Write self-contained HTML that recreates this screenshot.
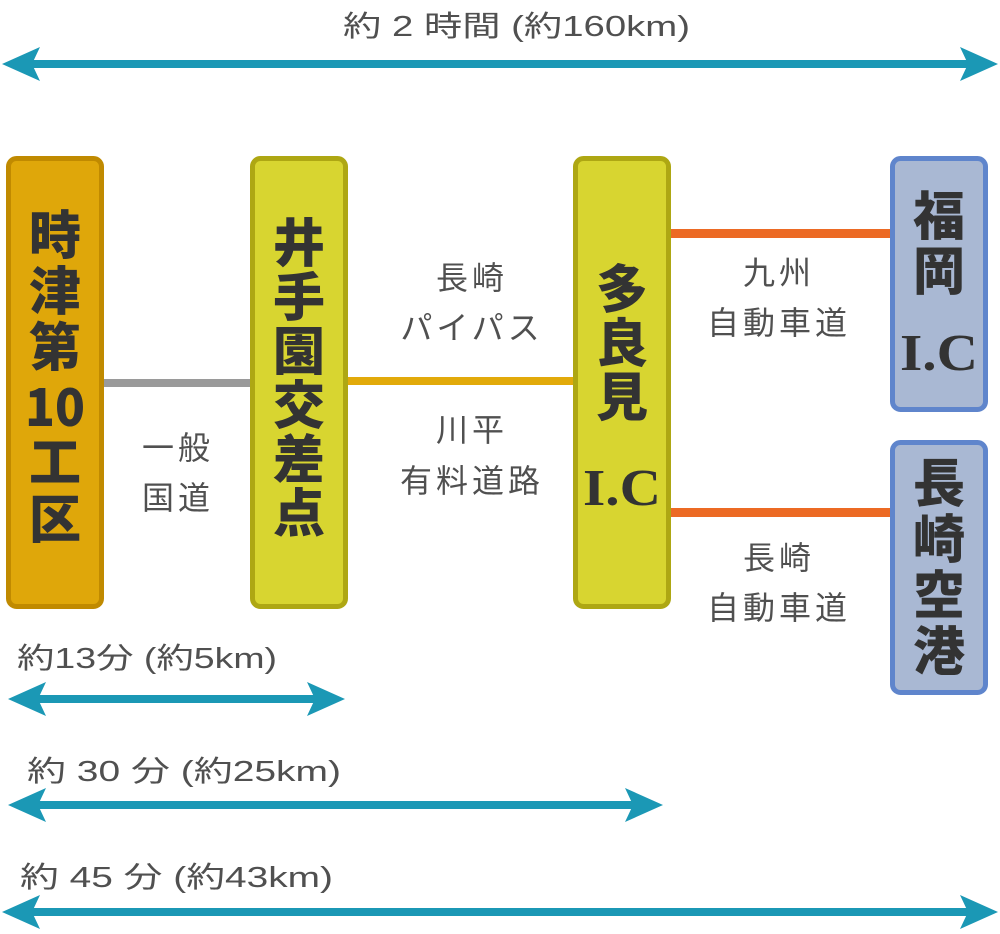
<!DOCTYPE html>
<html><head><meta charset="utf-8"><style>
html,body{margin:0;padding:0;background:#fff}
svg{display:block}
.l{font-family:"Liberation Sans","Noto Sans CJK JP",sans-serif;fill:#505050;font-size:29px}
.b{font-family:"Noto Sans CJK JP","Liberation Sans",sans-serif;fill:#333;font-size:52px;font-weight:900}
.ic{font-family:"Liberation Serif","Noto Sans CJK JP",serif;fill:#333;font-size:52px;font-weight:bold}
.m{font-family:"Noto Sans CJK JP","Liberation Sans",sans-serif;fill:#505050;font-size:32px;letter-spacing:4px}
</style></head><body>
<svg width="1000" height="934" viewBox="0 0 1000 934" xmlns="http://www.w3.org/2000/svg">
<g fill="#1b98b5">
<rect x="25" y="60" width="950" height="8"/>
<path d="M2 64 L40 47 L32 64 L40 81 Z"/><path d="M998 64 L960 47 L968 64 L960 81 Z"/>
<rect x="25" y="695" width="300" height="8"/>
<path d="M8 699 L46 682 L38 699 L46 716 Z"/><path d="M345 699 L307 682 L315 699 L307 716 Z"/>
<rect x="25" y="801" width="620" height="8"/>
<path d="M8 805 L46 788 L38 805 L46 822 Z"/><path d="M663 805 L625 788 L633 805 L625 822 Z"/>
<rect x="25" y="908" width="950" height="8"/>
<path d="M2 912 L40 895 L32 912 L40 929 Z"/><path d="M998 912 L960 895 L968 912 L960 929 Z"/>
</g>
<text class="l" x="343" y="36" textLength="347" lengthAdjust="spacingAndGlyphs">約 2 時間 (約160km)</text>
<text class="l" x="17" y="668" textLength="260" lengthAdjust="spacingAndGlyphs">約13分 (約5km)</text>
<text class="l" x="27" y="781" textLength="314" lengthAdjust="spacingAndGlyphs">約 30 分 (約25km)</text>
<text class="l" x="20" y="887" textLength="313" lengthAdjust="spacingAndGlyphs">約 45 分 (約43km)</text>
<rect x="103" y="379" width="150" height="8" fill="#9a9a9a"/>
<rect x="346" y="377" width="230" height="8" fill="#e2aa0a"/>
<rect x="668" y="229" width="225" height="9" fill="#ec6a24"/>
<rect x="668" y="508" width="225" height="9" fill="#ec6a24"/>
<rect x="8.5" y="158.5" width="93" height="448" rx="8" fill="#dfa70a" stroke="#c08a00" stroke-width="5"/>
<rect x="252.5" y="158.5" width="93" height="448" rx="8" fill="#d8d530" stroke="#aea713" stroke-width="5"/>
<rect x="575.5" y="158.5" width="93" height="448" rx="8" fill="#d8d530" stroke="#aea713" stroke-width="5"/>
<rect x="892.5" y="158.5" width="93" height="251" rx="8" fill="#a9b8d3" stroke="#5f85cc" stroke-width="5"/>
<rect x="892.5" y="442.5" width="93" height="250" rx="8" fill="#a9b8d3" stroke="#5f85cc" stroke-width="5"/>
<g class="b" text-anchor="middle">
<text x="55" y="254">時</text><text x="55" y="310">津</text><text x="55" y="366">第</text>
<text x="55" y="426" textLength="60" lengthAdjust="spacingAndGlyphs">10</text><text x="55" y="481">工</text><text x="55" y="538">区</text>
<text x="299" y="262">井</text><text x="299" y="316">手</text><text x="299" y="370">園</text>
<text x="299" y="424">交</text><text x="299" y="478">差</text><text x="299" y="532">点</text>
<text x="622" y="308">多</text><text x="622" y="362">良</text><text x="622" y="416">見</text>
<text x="939" y="235">福</text><text x="939" y="290">岡</text>
<text x="939" y="502">長</text><text x="939" y="558">崎</text><text x="939" y="614">空</text><text x="939" y="670">港</text>
</g>
<g class="ic" text-anchor="middle">
<text x="622" y="505" textLength="78" lengthAdjust="spacingAndGlyphs">I.C</text>
<text x="939" y="370" textLength="78" lengthAdjust="spacingAndGlyphs">I.C</text>
</g>
<g class="m" text-anchor="middle">
<text x="178" y="459">一般</text><text x="178" y="509">国道</text>
<text x="472" y="289">長崎</text><text x="472" y="339">パイパス</text>
<text x="472" y="441">川平</text><text x="472" y="492">有料道路</text>
<text x="779" y="284">九州</text><text x="779" y="334">自動車道</text>
<text x="779" y="569">長崎</text><text x="779" y="619">自動車道</text>
</g>
</svg>
</body></html>
